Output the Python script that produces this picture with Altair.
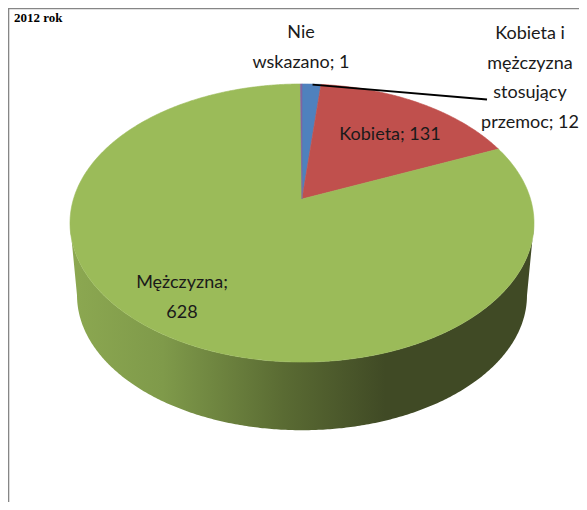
import numpy as np
import pandas as pd
import altair as alt

# values, clockwise from 12 o'clock
categories = ["Kobieta i mężczyzna stosujący przemoc", "Kobieta", "Mężczyzna", "Nie wskazano"]
values = [12, 131, 628, 1]
colors = ["#4F81BD", "#C0504D", "#9BBB59", "#8064A2"]

label_texts = ["Nie\nwskazano; 1", "Kobieta i\nmężczyzna\nstosujący\nprzemoc; 12", "Kobieta; 131", "Mężczyzna;\n628"]
label_x = [301, 530, 390, 182]
label_y = [33, 34, 135, 283]

title_text = "2012 rok"

FONT = "Lato"
FS = 18
W, H = 571, 494
X0, Y0 = 8, 8
x_scale = alt.Scale(domain=[X0, X0 + W], range=[0, W], nice=False, zero=False)
y_scale = alt.Scale(domain=[Y0 + H, Y0], range=[H, 0], nice=False, zero=False)

P = 0.1727


def disc(theta_deg, cx=302.0, cy=199.0, bx=228.5, by=134.9):
    t = np.radians(theta_deg)
    u, v = np.sin(t), -np.cos(t)
    w = 1 - P * v
    return cx + bx * u / w, cy + by * v / w


def poly_chart(xs, ys, fill, stroke=None):
    df = pd.DataFrame({"x": xs, "y": ys, "i": np.arange(len(xs))})
    kw = {"fill": fill, "strokeWidth": 0.6, "interpolate": "linear", "clip": False}
    kw["stroke"] = stroke if stroke else "transparent"
    return alt.Chart(df).mark_line(**kw).encode(
        x=alt.X("x:Q", scale=x_scale, axis=None),
        y=alt.Y("y:Q", scale=y_scale, axis=None),
        order="i:Q",
    )


layers = []

# side wall
th = np.arange(0, 360.5, 0.5)
tx, ty = disc(th)
bx_, by_ = disc(th, cy=272.0, bx=221.6, by=130.9)
ir, il = int(np.argmax(tx)), int(np.argmin(tx))
jr, jl = int(np.argmax(bx_)), int(np.argmin(bx_))
wx = np.concatenate([tx[ir:il + 1], bx_[jl:jr - 1:-1], tx[ir:ir + 1]])
wy = np.concatenate([ty[ir:il + 1], by_[jl:jr - 1:-1], ty[ir:ir + 1]])
wall_fill = alt.Gradient(
    gradient="linear", x1=0, x2=1, y1=0, y2=0,
    stops=[
        alt.GradientStop(offset=0.0, color="#8CA851"),
        alt.GradientStop(offset=0.2, color="#7F9A4A"),
        alt.GradientStop(offset=0.46, color="#5A6B33"),
        alt.GradientStop(offset=0.68, color="#404A25"),
        alt.GradientStop(offset=1.0, color="#404A25"),
    ],
)
layers.append(poly_chart(wx, wy, wall_fill))

# top face slices
total = sum(values)
start = 0.0
for val, col in zip(values, colors):
    end = start + val / total * 360
    ang = np.linspace(start, end, max(2, int((end - start) * 2) + 2))
    ex, ey = disc(ang)
    px = np.concatenate([[302.0], ex, [302.0]])
    py = np.concatenate([[199.0], ey, [199.0]])
    layers.append(poly_chart(px, py, col, col))
    start = end

# leader line: blue slice to its label
mx, my = disc(np.array([values[0] / total * 180]))
leader = pd.DataFrame({"x": [mx[0] + 1, 487], "y": [my[0] + 0.5, 99.5]})
layers.append(alt.Chart(leader).mark_line(color="#000000", strokeWidth=1.8).encode(
    x=alt.X("x:Q", scale=x_scale, axis=None), y=alt.Y("y:Q", scale=y_scale, axis=None)))

# frame
frame = pd.DataFrame({"x": [X0 + 0.5, X0 + 0.5, X0 + W], "y": [Y0 + H, Y0 + 0.5, Y0 + 0.5], "i": [0, 1, 2]})
layers.append(alt.Chart(frame).mark_line(color="#868686", strokeWidth=1.6).encode(
    x=alt.X("x:Q", scale=x_scale, axis=None), y=alt.Y("y:Q", scale=y_scale, axis=None), order="i:Q"))

# heading: cropped away by the top edge in the reference, moved just inside the frame here
heading = pd.DataFrame({"t": [title_text], "x": [14], "y": [22]})
layers.append(alt.Chart(heading).mark_text(
    font="Liberation Serif", fontSize=13, fontWeight="bold", color="#000000", align="left", baseline="alphabetic"
).encode(
    x=alt.X("x:Q", scale=x_scale, axis=None), y=alt.Y("y:Q", scale=y_scale, axis=None), text="t:N"))

# labels
labels = pd.DataFrame({"t": label_texts, "x": label_x, "y": label_y})
layers.append(alt.Chart(labels).mark_text(
    font=FONT, fontSize=FS, color="#1a1a1a", lineBreak="\n", lineHeight=29.5, baseline="middle", align="center"
).encode(
    x=alt.X("x:Q", scale=x_scale, axis=None), y=alt.Y("y:Q", scale=y_scale, axis=None), text="t:N"))

chart = alt.layer(*layers).properties(
    width=W, height=H, padding=0, autosize=alt.AutoSizeParams(type="none"), background="#FFFFFF",
).configure_view(stroke=None)

chart.save("out.html", embed_options={"renderer": "svg", "actions": False})
